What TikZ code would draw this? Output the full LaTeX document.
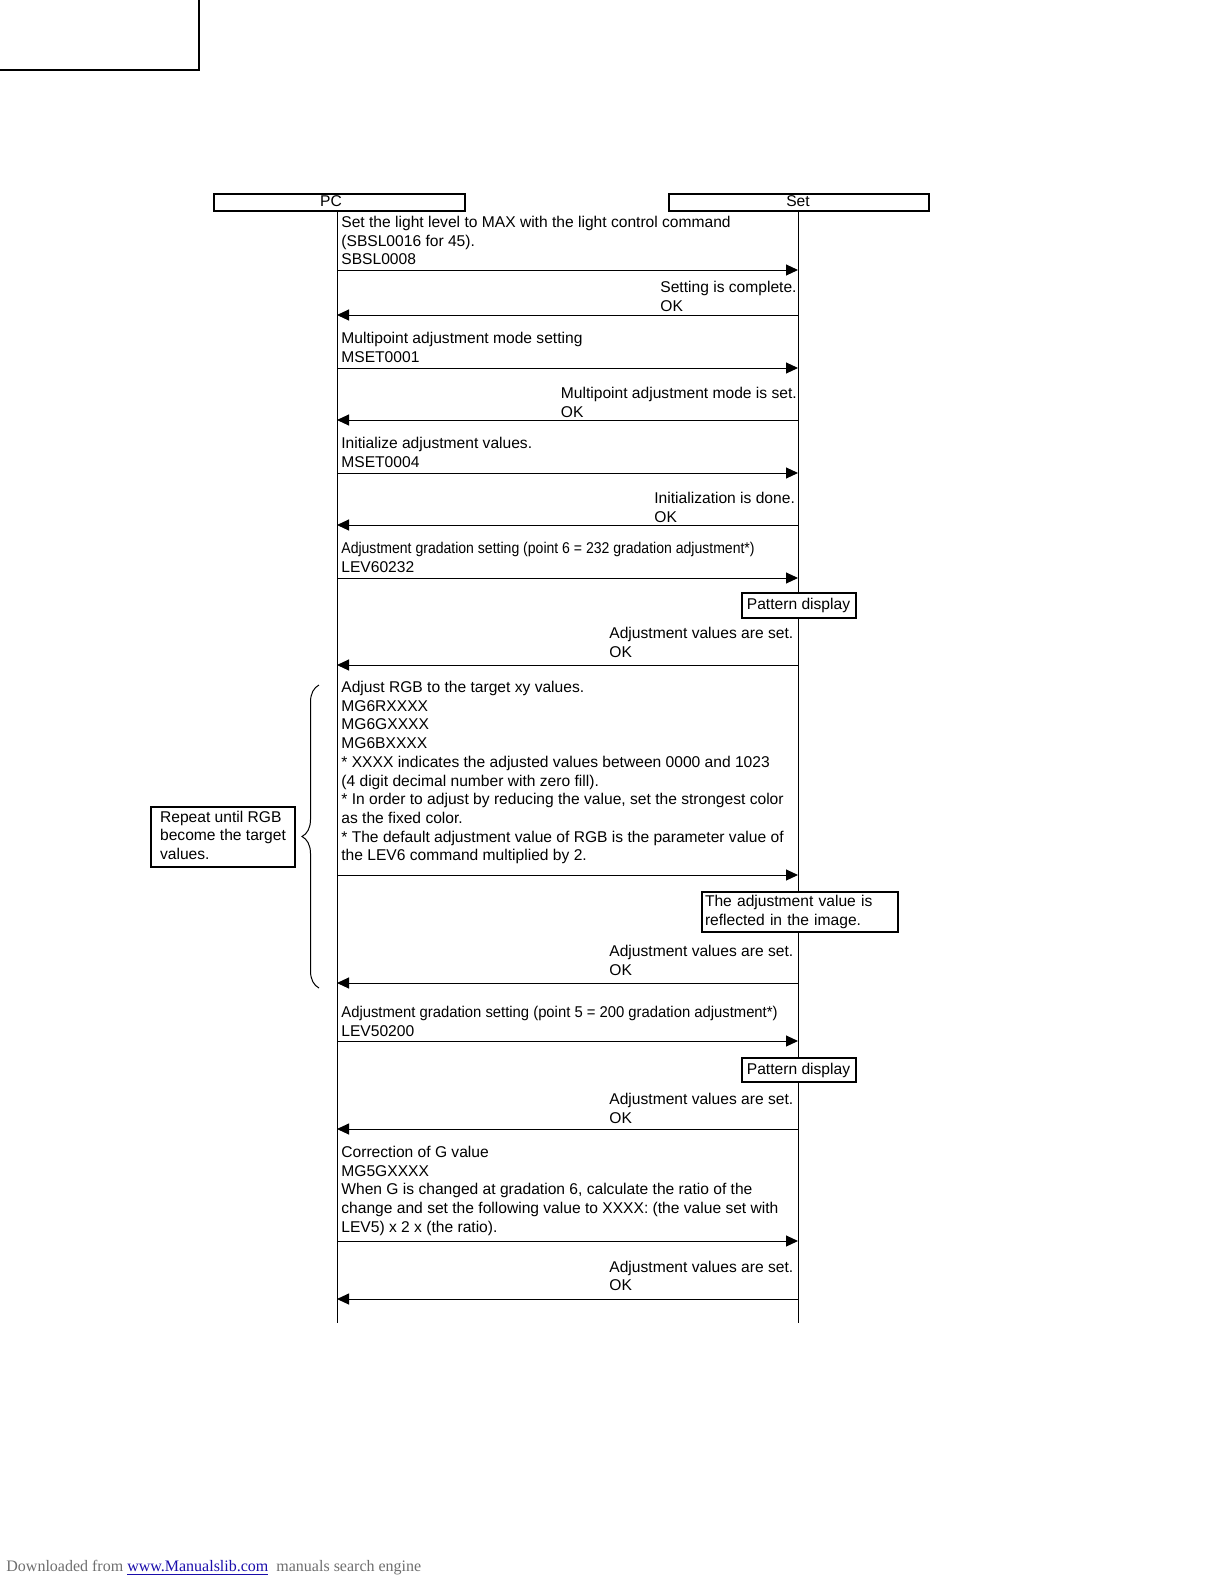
\documentclass[tikz,border=0pt]{standalone}
\usepackage{fontspec}
\setmainfont{Liberation Sans}
\newfontfamily\footserif{Liberation Serif}
\usetikzlibrary{arrows.meta,decorations.pathreplacing}
\newcommand{\lns}[1]{\begin{tabular}[t]{@{}l@{}}#1\end{tabular}}
\newcommand{\clns}[1]{\begin{tabular}{@{}l@{}}#1\end{tabular}}
\definecolor{linkblue}{RGB}{26,13,171}
\definecolor{footgray}{RGB}{110,110,110}
\begin{document}
\begin{tikzpicture}[x=0.5pt,y=-0.5pt,
  every node/.style={inner sep=0pt, font=\fontsize{7.8}{9.35}\selectfont},
  lbl/.style={anchor=base west},
  msg/.style={line width=0.5pt, -{Triangle[length=6pt,width=5.5pt]}},
  life/.style={line width=0.5pt},
  headbox/.style={draw, line width=1pt, anchor=north west, minimum height=8.5pt},
  notebox/.style={draw, line width=1pt, fill=white}]
\useasboundingbox (0,0) rectangle (1224,1584);
% corner frame
\draw[line width=1pt] (-5,70.5) -- (198.5,70.5) -- (198.5,-5);
% heads
\node[headbox, minimum width=125.5pt] (pcbox) at (212.5,192.5) {};
\node[headbox, minimum width=130pt] (setbox) at (668,192.5) {};
\node (pct) at (331,201.5) {PC};
\node (sett) at (798,201.5) {Set};
% lifelines
\coordinate (pctop) at (337,210);
\coordinate (pcbot) at (337,1323);
\coordinate (settop) at (798,210);
\coordinate (setbot) at (798,1323);
\draw[life] (pctop) -- (pcbot);
\draw[life] (settop) -- (setbot);
\foreach \n/\y in {1/270,2/315,3/368,4/420,5/473,6/525,7/578,8/665,9/875,10/983,11/1041,12/1129,13/1241,14/1299}{
  \coordinate (P\n) at (337,\y);
  \coordinate (S\n) at (798,\y);
}
\draw[msg] (P1) -- (S1);
\draw[msg] (S2) -- (P2);
\draw[msg] (P3) -- (S3);
\draw[msg] (S4) -- (P4);
\draw[msg] (P5) -- (S5);
\draw[msg] (S6) -- (P6);
\draw[msg] (P7) -- (S7);
\draw[msg] (S8) -- (P8);
\draw[msg] (P9) -- (S9);
\draw[msg] (S10) -- (P10);
\draw[msg] (P11) -- (S11);
\draw[msg] (S12) -- (P12);
\draw[msg] (P13) -- (S13);
\draw[msg] (S14) -- (P14);
% labels
\node[lbl] (t1) at (341,227.5) {\lns{Set the light level to MAX with the light control command\\(SBSL0016 for 45).\\SBSL0008}};
\node[lbl] (t2) at (660,292.5) {\lns{Setting is complete.\\OK}};
\node[lbl] (t3) at (341,343.5) {\lns{Multipoint adjustment mode setting\\MSET0001}};
\node[lbl] (t4) at (560.5,398.5) {\lns{Multipoint adjustment mode is set.\\OK}};
\node[lbl] (t5) at (341,448.5) {\lns{Initialize adjustment values.\\MSET0004}};
\node[lbl] (t6) at (654,503.5) {\lns{Initialization is done.\\OK}};
\node[lbl] (t7) at (341,553.5) {\lns{\scalebox{0.9}[1]{Adjustment gradation setting (point 6 = 232 gradation adjustment*)}\\LEV60232}};
\node[notebox, minimum width=57pt, minimum height=12.5pt] (pat1) at (798.5,605.5) {Pattern display};
\node[lbl] (t8) at (609,638.5) {\lns{Adjustment values are set.\\OK}};
\node[lbl] (t9) at (341,692.5) {\lns{Adjust RGB to the target xy values.\\MG6RXXXX\\MG6GXXXX\\MG6BXXXX\\{*} XXXX indicates the adjusted values between 0000 and 1023\\(4 digit decimal number with zero fill).\\{*} In order to adjust by reducing the value, set the strongest color\\as the fixed color.\\{*} The default adjustment value of RGB is the parameter value of\\the LEV6 command multiplied by 2.}};
\node[notebox, anchor=north west, inner xsep=1.5pt, text width=95pt, align=left, minimum height=20pt] (refl) at (701,891) {The adjustment value is\\reflected in the image.};
\node[lbl] (t10) at (609,956.5) {\lns{Adjustment values are set.\\OK}};
\node[lbl] (t11) at (341,1017.5) {\lns{\scalebox{0.95}[1]{Adjustment gradation setting (point 5 = 200 gradation adjustment*)}\\LEV50200}};
\node[notebox, minimum width=57pt, minimum height=12pt] (pat2) at (798.5,1070) {Pattern display};
\node[lbl] (t12) at (609,1104.5) {\lns{Adjustment values are set.\\OK}};
\node[lbl] (t13) at (341,1157.5) {\lns{Correction of G value\\MG5GXXXX\\When G is changed at gradation 6, calculate the ratio of the\\change and set the following value to XXXX: (the value set with\\LEV5) x 2 x (the ratio).}};
\node[lbl] (t14) at (609,1272) {\lns{Adjustment values are set.\\OK}};
% repeat note and brace
\node[notebox, anchor=north west, minimum width=72pt, minimum height=30pt] (rep) at (150,806) {\clns{Repeat until RGB\\become the target\\values.}};
\coordinate (brtop) at (319,685);
\coordinate (brbot) at (319,988);
\draw[line width=0.5pt, decorate, decoration={brace, amplitude=8.5pt}] (brbot) -- (brtop);
% footer
\node[anchor=base west, font=\footserif\fontsize{8}{9.6}\selectfont, text=footgray] (foot) at (6,1571) {Downloaded from \textcolor{linkblue}{\underline{www.Manualslib.com}}\ \ manuals search engine};
\end{tikzpicture}
\end{document}
